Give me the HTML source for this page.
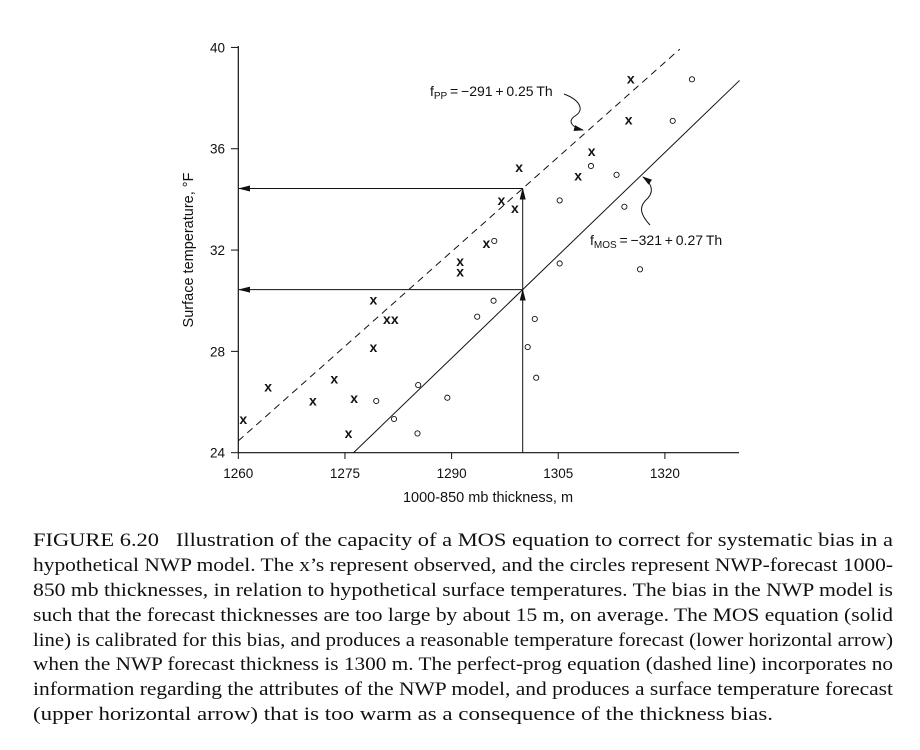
<!DOCTYPE html>
<html><head><meta charset="utf-8"><style>
body{margin:0;background:#fff;width:920px;height:750px;overflow:hidden;position:relative}
#cap{position:absolute;left:33px;top:529px;width:860px;font-family:"Liberation Serif",serif;font-size:19px;line-height:24.9px;color:#111}
#cap div{white-space:nowrap;height:24.9px}
#cap span{display:inline-block;transform-origin:0 0}
</style></head><body>
<svg id="chart" width="920" height="520" style="position:absolute;left:0;top:0" font-family="Liberation Sans, sans-serif"></svg>
<div id="cap">
<div><span data-w="860">FIGURE 6.20&nbsp;&nbsp; Illustration of the capacity of a MOS equation to correct for systematic bias in a</span></div>
<div><span data-w="860">hypothetical NWP model. The x’s represent observed, and the circles represent NWP-forecast 1000-</span></div>
<div><span data-w="860">850 mb thicknesses, in relation to hypothetical surface temperatures. The bias in the NWP model is</span></div>
<div><span data-w="860">such that the forecast thicknesses are too large by about 15 m, on average. The MOS equation (solid</span></div>
<div><span data-w="860">line) is calibrated for this bias, and produces a reasonable temperature forecast (lower horizontal arrow)</span></div>
<div><span data-w="860">when the NWP forecast thickness is 1300 m. The perfect-prog equation (dashed line) incorporates no</span></div>
<div><span data-w="860">information regarding the attributes of the NWP model, and produces a surface temperature forecast</span></div>
<div><span data-w="740">(upper horizontal arrow) that is too warm as a consequence of the thickness bias.</span></div>
</div>
<script>
document.querySelectorAll('#cap span').forEach(s=>{const w=s.getBoundingClientRect().width;s.style.transform='scaleX('+(+s.dataset.w/w)+')';});
const xTicks=[1260,1275,1290,1305,1320];
const yTicks=[24,28,32,36,40];
const obsX=[1260.7,1264.2,1270.5,1273.5,1276.3,1275.5,1279,1279,1280.9,1282.0,1291.2,1291.2,1294.9,1297.0,1298.9,1299.5,1307.8,1309.7,1314.9,1315.2];
const obsY=[25.32,26.6,26.05,26.9,26.14,24.76,30.03,28.16,29.26,29.26,31.54,31.14,32.26,33.95,33.64,35.26,34.92,35.9,37.13,38.75];
const fcX=[1279.4,1281.9,1285.3,1285.2,1289.4,1293.6,1295.9,1296.0,1300.7,1301.7,1301.9,1305.2,1305.2,1309.6,1313.2,1314.3,1316.5,1321.1,1323.8];
const fcY=[26.04,25.33,26.67,24.76,26.17,29.37,30.0,32.36,28.17,29.28,26.96,31.47,33.96,35.32,34.97,33.71,31.24,37.1,38.74];
const ppCoef=[-289.4,0.2491], ppRange=[1260,1322.1];
const mosCoef=[-321.47,0.2707], mosRange=[1276.2,1330.5];
const fcThick=1300;
const NS='http://www.w3.org/2000/svg';
const svg=document.getElementById('chart');
const X=v=>238.3+(v-1260)*7.11;
const Y=v=>452.7-(v-24)*25.33;
function mk(t,a,p){const e=document.createElementNS(NS,t);for(const k in a)e.setAttribute(k,a[k]);(p||svg).appendChild(e);return e;}
const defs=mk('defs',{});
const mr=mk('marker',{id:'ah',markerWidth:12,markerHeight:8,refX:11,refY:4,orient:'auto',markerUnits:'userSpaceOnUse'},defs);
mk('path',{d:'M0,1 L12,4 L0,7 Z',fill:'#111'},mr);
const mr2=mk('marker',{id:'ah2',markerWidth:10,markerHeight:8,refX:9,refY:4,orient:'auto',markerUnits:'userSpaceOnUse'},defs);
mk('path',{d:'M0,1 L10,4 L0,7 Z',fill:'#111'},mr2);
let e=mk('line',{x1:238.3,y1:46,x2:238.3,y2:452.7,stroke:'#111','stroke-width':1.2});

e=mk('line',{x1:238.3,y1:452.7,x2:739,y2:452.7,stroke:'#111','stroke-width':1.2});

xTicks.forEach(v=>{mk('line',{x1:X(v),y1:452.7,x2:X(v),y2:459,stroke:'#111'});
 const t=mk('text',{x:X(v),y:478,'text-anchor':'middle','font-size':13.5,fill:'#111'});t.textContent=v;
 });
yTicks.forEach(v=>{mk('line',{x1:231,y1:Y(v),x2:238.3,y2:Y(v),stroke:'#111'});
 const t=mk('text',{x:225,y:Y(v)+5,'text-anchor':'end','font-size':13.5,fill:'#111'});t.textContent=v;
 });
e=mk('text',{x:488,y:502,'text-anchor':'middle','font-size':14.5,fill:'#111'});e.textContent='1000-850 mb thickness, m';

e=mk('text',{x:0,y:0,'text-anchor':'middle','font-size':14.5,fill:'#111',transform:'translate(193,250) rotate(-90)'});e.textContent='Surface temperature, °F';

const f=(c,x)=>c[0]+c[1]*x;
e=mk('line',{x1:X(ppRange[0]),y1:Y(f(ppCoef,ppRange[0])),x2:X(ppRange[1]),y2:Y(f(ppCoef,ppRange[1])),stroke:'#111','stroke-width':1,'stroke-dasharray':'7,5'});

e=mk('line',{x1:X(mosRange[0]),y1:Y(f(mosCoef,mosRange[0])),x2:X(mosRange[1]),y2:Y(f(mosCoef,mosRange[1])),stroke:'#111','stroke-width':1});

const tMos=f(mosCoef,fcThick), tPP=f(ppCoef,fcThick);
e=mk('line',{x1:X(fcThick),y1:452.7,x2:X(fcThick),y2:Y(tMos),stroke:'#111','marker-end':'url(#ah)'});

e=mk('line',{x1:X(fcThick),y1:Y(tMos),x2:X(fcThick),y2:Y(tPP),stroke:'#111','marker-end':'url(#ah)'});

e=mk('line',{x1:X(fcThick),y1:Y(tMos),x2:239,y2:Y(tMos),stroke:'#111','marker-end':'url(#ah)'});

e=mk('line',{x1:X(fcThick),y1:Y(tPP),x2:239,y2:Y(tPP),stroke:'#111','marker-end':'url(#ah)'});

obsX.forEach((v,i)=>{const t=mk('text',{x:X(v),y:Y(obsY[i])+4.5,'text-anchor':'middle','font-size':14,'font-weight':'bold',fill:'#111'});t.textContent='x';
 });
fcX.forEach((v,i)=>{const c=mk('circle',{cx:X(v),cy:Y(fcY[i]),r:2.6,fill:'none',stroke:'#111','stroke-width':0.9});
 });
e=mk('text',{x:430,y:96,'font-size':14,fill:'#111'});
e.innerHTML='f<tspan font-size="10" dy="3">PP</tspan><tspan dy="-3">\u2009=\u2009\u2212291\u2009+\u20090.25\u2009Th</tspan>';

e=mk('path',{d:'M564,94 C580,100 585,110 575,116 C566,122 574,128 583,130',fill:'none',stroke:'#111','marker-end':'url(#ah2)'});

e=mk('text',{x:590,y:245,'font-size':14,fill:'#111'});
e.innerHTML='f<tspan font-size="10" dy="3">MOS</tspan><tspan dy="-3">\u2009=\u2009\u2212321\u2009+\u20090.27\u2009Th</tspan>';

e=mk('path',{d:'M650,225 C638,212 640,205 648,198 C655,190 650,182 643,177',fill:'none',stroke:'#111','marker-end':'url(#ah2)'});

</script>
</body></html>
